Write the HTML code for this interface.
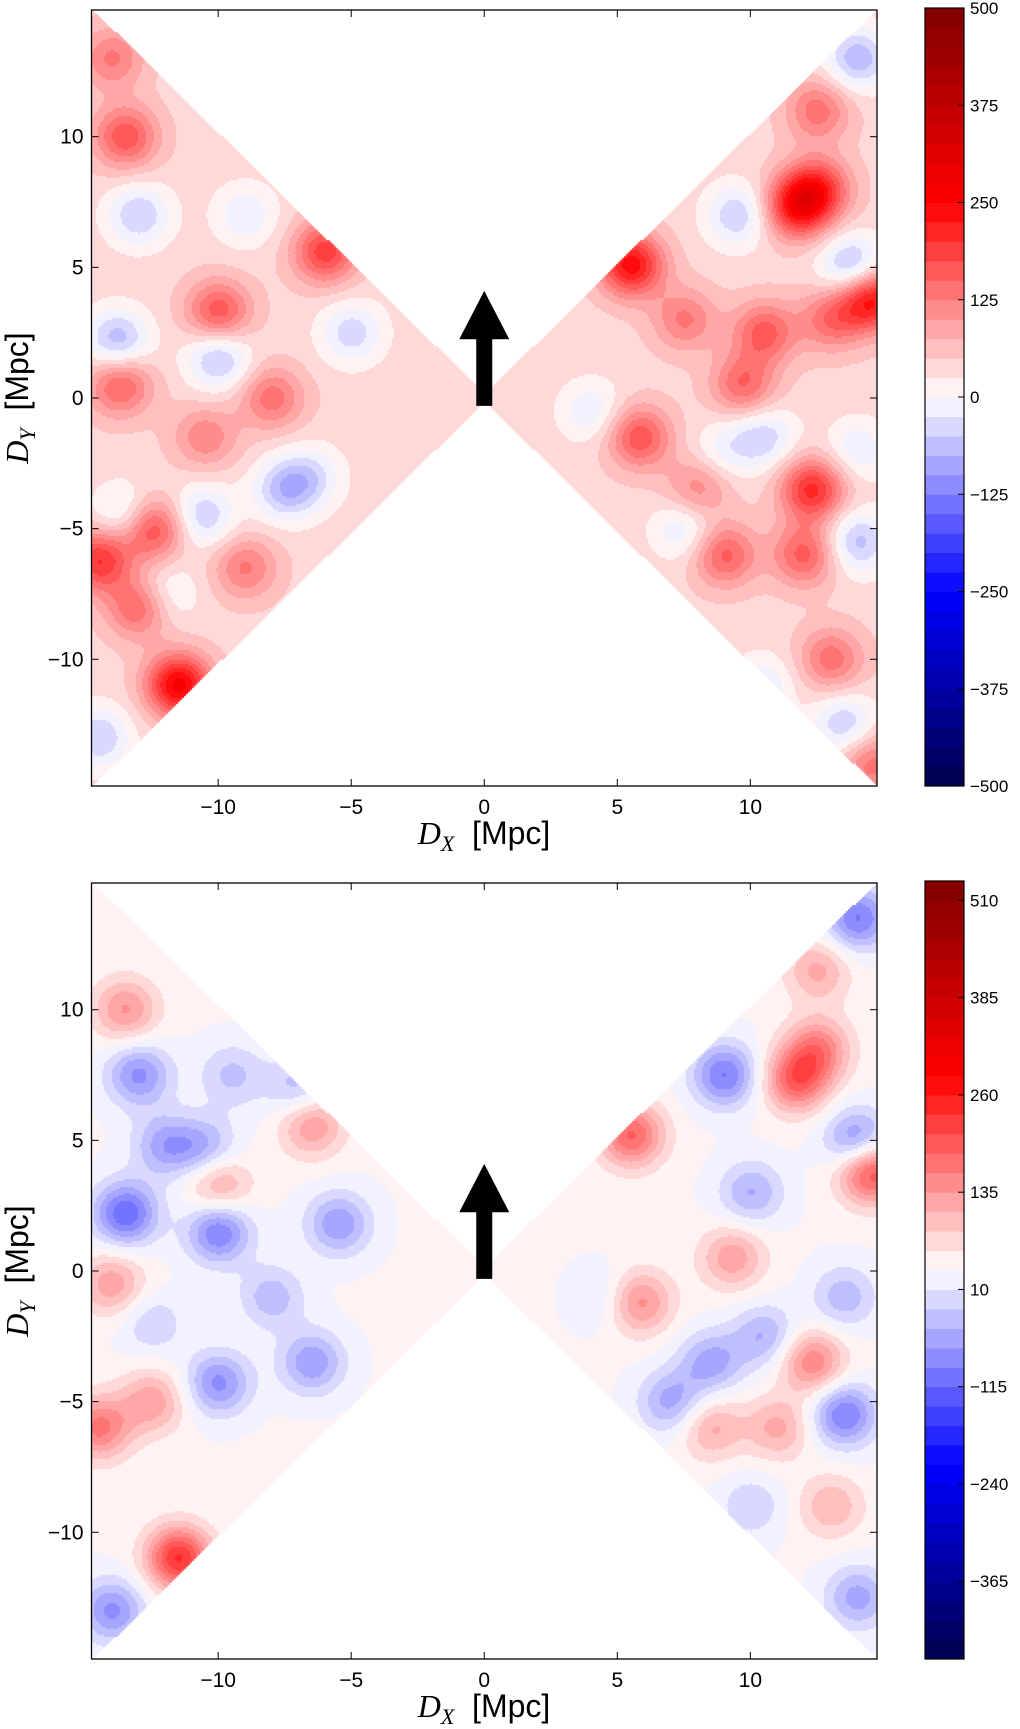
<!DOCTYPE html>
<html><head><meta charset="utf-8">
<style>
body{margin:0;background:#fff;width:1020px;height:1729px;overflow:hidden;position:relative;font-family:"Liberation Sans",sans-serif}
svg{position:absolute;left:0;top:0}
</style></head>
<body>
<svg id="fig" width="1020" height="1729" xmlns="http://www.w3.org/2000/svg"></svg>
<script>
// ---- data ----
const xTicks=[-10,-5,0,5,10];
const yTicks=[-10,-5,0,5,10];
const topBaseline=40;
const botBaseline=38;
// blobs: [x Mpc, y Mpc, amplitude]
const topBlobs=[[-13.5,10,130],[-13.7,0.5,120],[-12.5,-5,150],[-14.5,-6.2,160],[-11.5,-11,220],[-10,3.3,130],[-6,5.6,150],[-8,0,100],[-13,-8,120],[-9,-6.5,90],[-14,13,90],[-10.5,-1.5,80],
[-13.8,2.2,-110],[-10,1.5,-100],[-7.5,-3.5,-100],[-10.6,-4.5,-90],[-13,7,-90],[-5,2.5,-80],[-13.5,-4.5,-80],[-14.5,-13,-90],[-6.5,-3,-60],[-12,-7.5,-60],[-9,7,-60],
[11.7,7.3,180],[12.5,8,150],[14.5,3.8,200],[5.5,5.1,200],[12.3,-3.5,170],[9.7,0.5,110],[5.8,-1.5,130],[10.5,2.5,120],[8,-3.5,80],[9,-6,120],[12,-6,120],[13,-10,100],[12.5,11,100],[13,3,100],[7.5,3,90],[14.5,-14,100],
[14,13,-110],[13.8,5,-120],[9.5,7,-90],[4,-0.5,-60],[10.5,-1.5,-80],[7.5,-5,-70],[14,-5.5,-100],[13.5,-12.5,-90],[10.5,-11,-60],[14,-2,-60],[9,-2,-50]];
const botBlobs=[[-13.5,10,100],[-11.5,-11,200],[-14.5,-6,130],[-12.5,-5,90],[-14,-0.5,90],[-10,3.3,90],[-6.5,5.6,100],[11.7,7.3,150],[12.5,8.5,120],[14.5,3.8,180],[5.5,5.2,150],[5.8,-1.2,110],[12.3,-3.5,120],[9.3,0.5,90],[12.5,11.5,80],[8.5,-6,80],[11,-6,80],[13,-9,70],
[-13.5,2.2,-150],[-10,1.5,-130],[-13,7.5,-110],[-12,4.8,-90],[-10.5,4.7,-80],[-10,-4.3,-110],[-6.5,-3.5,-100],[-5.5,1.8,-100],[-8,-1,-70],[-12.5,-2,-50],[-14,-13,-110],[-7,7,-70],[-9.5,7.5,-60],
[9,7.5,-130],[10,3,-80],[14,13.5,-130],[14,5,-120],[8.5,-3.5,-90],[10.5,-2.5,-80],[13.5,-5.5,-130],[7,-5,-90],[14,-12.5,-90],[10,-9,-50],[4.5,-1,-40],[13.5,-1,-70]];
const topCbarTicks=[500,375,250,125,0,-125,-250,-375,-500];
const botCbarTicks=[510,385,260,135,10,-115,-240,-365];
const topLevels={min:-500,max:500,step:25,start:-500};
const botLevels={min:-465,max:535,step:25,start:-465};

const NS="http://www.w3.org/2000/svg";
const svg=document.getElementById('fig');
function mk(tag,attrs,parent){const e=document.createElementNS(NS,tag);for(const k in attrs)e.setAttribute(k,attrs[k]);(parent||svg).appendChild(e);return e;}
function seismic(t){t=Math.max(0,Math.min(1,t));let r,g,b;
 if(t<0.25){const u=t/0.25;r=0;g=0;b=0.3+0.7*u;}
 else if(t<0.5){const u=(t-0.25)/0.25;r=u;g=u;b=1;}
 else if(t<0.75){const u=(t-0.5)/0.25;r=1;g=1-u;b=1-u;}
 else{const u=(t-0.75)/0.25;r=1-0.5*u;g=0;b=0;}
 return `rgb(${Math.round(r*255)},${Math.round(g*255)},${Math.round(b*255)})`;}

function panel(name,top,blobs,base,lv,cticks){
 const L=91.5,R=877,T=top,B=top+776;
 const X0=-14.76,X1=14.76,Y0=-14.85,Y1=14.85;
 const sx=v=>L+(v-X0)/(X1-X0)*(R-L);
 const sy=v=>B-(v-Y0)/(Y1-Y0)*(B-T);
 const g=mk('g',{});
 
 
 const fo=mk('foreignObject',{x:L,y:T,width:R-L,height:B-T},g);
 const cv=document.createElement('canvas');const W=Math.round(R-L),H=Math.round(B-T);
 cv.width=W;cv.height=H;cv.style.display='block';
 
 
 fo.appendChild(cv);const ctx=cv.getContext('2d');
 const s2=2*0.85*0.85,st=2;
 for(let py=0;py<H;py+=st)for(let px=0;px<W;px+=st){
  const x=X0+(px+1)/W*(X1-X0),y=Y1-(py+1)/H*(Y1-Y0);
  if(Math.abs(y)>Math.abs(x)+0.15)continue;
  let v=base;for(const b of blobs){const dx=x-b[0],dy=y-b[1];const d=dx*dx+dy*dy;if(d<12)v+=b[2]*Math.exp(-d/s2);}
  const k=Math.floor((v-lv.start)/lv.step);const mid=lv.start+(k+0.5)*lv.step;
  ctx.fillStyle=seismic((mid-lv.min)/(lv.max-lv.min));ctx.fillRect(px,py,st,st);
 }
 const fr=mk('rect',{x:L,y:T,width:R-L,height:B-T,fill:'none',stroke:'#000','stroke-width':1.3},g);
 
 xTicks.forEach(v=>{const x=sx(v);
  mk('line',{x1:x,x2:x,y1:B,y2:B-7,stroke:'#000'},g);mk('line',{x1:x,x2:x,y1:T,y2:T+7,stroke:'#000'},g);
  const t=mk('text',{x:x,y:B+28,'text-anchor':'middle','font-size':21},g);t.textContent=(v<0?'\u2212':'')+Math.abs(v);
  });
 yTicks.forEach(v=>{const y=sy(v);
  mk('line',{x1:L,x2:L+7,y1:y,y2:y,stroke:'#000'},g);mk('line',{x1:R,x2:R-7,y1:y,y2:y,stroke:'#000'},g);
  const t=mk('text',{x:L-8,y:y+7,'text-anchor':'end','font-size':21},g);t.textContent=(v<0?'\u2212':'')+Math.abs(v);
  });
 const xl=mk('text',{x:484,y:B+58,'text-anchor':'middle','font-size':32},g);
 xl.innerHTML='<tspan font-family="Liberation Serif" font-style="italic">D</tspan><tspan font-family="Liberation Serif" font-style="italic" font-size="22" dy="7">X</tspan><tspan dy="-7" xml:space="preserve">  [Mpc]</tspan>';
 
 const yl=mk('text',{x:0,y:0,'text-anchor':'middle','font-size':32,transform:`translate(28,${sy(0)}) rotate(-90)`},g);
 yl.innerHTML='<tspan font-family="Liberation Serif" font-style="italic">D</tspan><tspan font-family="Liberation Serif" font-style="italic" font-size="22" dy="7">Y</tspan><tspan dy="-7" xml:space="preserve">  [Mpc]</tspan>';
 
 const ar=mk('path',{d:`M${sx(0)-8},${sy(-0.3)} L${sx(0)+8},${sy(-0.3)} L${sx(0)+8},${sy(2.25)} L${sx(0)+25},${sy(2.25)} L${sx(0)},${sy(4.1)} L${sx(0)-25},${sy(2.25)} L${sx(0)-8},${sy(2.25)} Z`,fill:'#000'},g);
 
 const cL=925,cR=964,cT=T-2,cB=B;
 const cy=v=>cB-(v-lv.min)/(lv.max-lv.min)*(cB-cT);
 for(let v=lv.start;v<lv.max;v+=lv.step){
  const r=mk('rect',{x:cL,y:cy(v+lv.step),width:cR-cL,height:cy(v)-cy(v+lv.step)+0.5,fill:seismic((v+lv.step/2-lv.min)/(lv.max-lv.min))},g);
  }
 mk('rect',{x:cL,y:cT,width:cR-cL,height:cB-cT,fill:'none',stroke:'#000','stroke-width':1.2},g);
 cticks.forEach(v=>{const y=cy(v);mk('line',{x1:cR-6,x2:cR,y1:y,y2:y,stroke:'#000'},g);
  const t=mk('text',{x:cR+6,y:y+6,'font-size':17},g);t.textContent=(v<0?'\u2212':'')+Math.abs(v);
  });
}
panel('top-panel',10,topBlobs,topBaseline,topLevels,topCbarTicks);
panel('bottom-panel',883,botBlobs,botBaseline,botLevels,botCbarTicks);
</script>
</body></html>
